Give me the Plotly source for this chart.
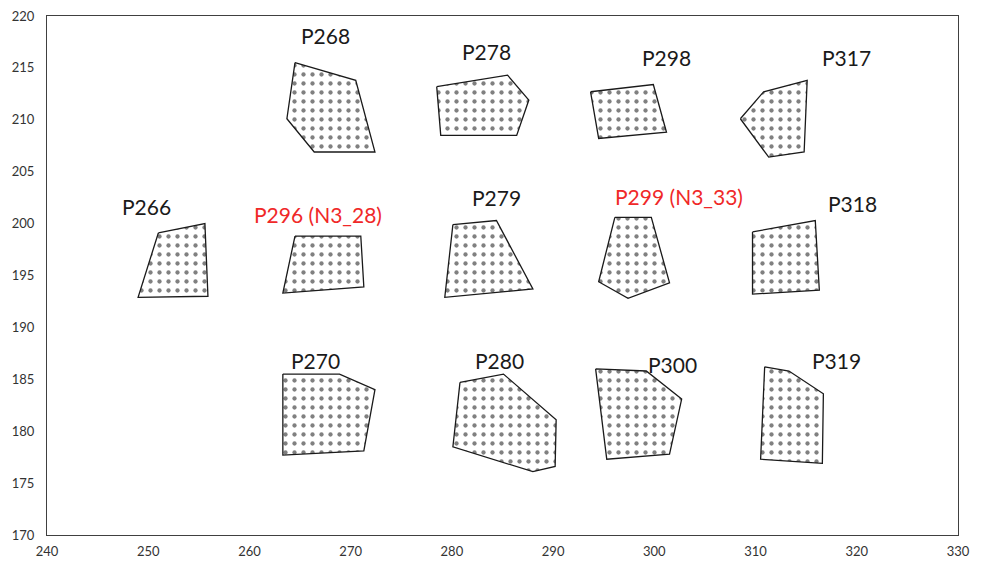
import plotly.graph_objects as go

# Plot names
names = ["P268", "P278", "P298", "P317",
         "P266", "P296", "P279", "P299", "P318",
         "P270", "P280", "P300", "P319"]

# Polygon outlines (x, y) per plot
poly_x = [
    [264.5, 270.5, 272.4, 266.4, 263.7],
    [278.5, 285.5, 287.6, 286.4, 278.9],
    [293.7, 299.9, 301.2, 294.5],
    [308.5, 310.8, 315.1, 314.8, 311.3],
    [251.0, 255.6, 255.9, 249.0],
    [264.5, 271.0, 271.3, 263.3],
    [280.1, 284.4, 288.0, 279.3],
    [296.1, 299.7, 301.5, 297.4, 294.5],
    [309.7, 315.9, 316.3, 309.7],
    [263.3, 268.9, 272.4, 271.3, 263.3],
    [280.8, 285.1, 290.3, 290.2, 288.0, 280.1],
    [294.2, 299.2, 302.7, 301.5, 295.3],
    [310.9, 313.3, 316.7, 316.6, 310.5],
]
poly_y = [
    [215.5, 213.8, 206.9, 206.9, 210.1],
    [213.2, 214.3, 211.9, 208.5, 208.5],
    [212.7, 213.4, 208.8, 208.2],
    [210.1, 212.7, 213.8, 206.9, 206.4],
    [199.1, 200.0, 193.0, 192.9],
    [198.8, 198.8, 193.9, 193.3],
    [199.9, 200.3, 193.7, 192.9],
    [200.6, 200.6, 194.3, 192.8, 194.4],
    [199.2, 200.3, 193.6, 193.2],
    [185.5, 185.5, 184.0, 178.1, 177.7],
    [184.7, 185.5, 181.1, 176.6, 176.1, 178.5],
    [186.0, 185.8, 183.1, 177.8, 177.3],
    [186.2, 185.8, 183.6, 176.9, 177.3],
]

# Labels
label_text = ["P268", "P278", "P298", "P317",
              "P266", "P296 (N3_28)", "P279", "P299 (N3_33)", "P318",
              "P270", "P280", "P300", "P319"]
label_x = [267.5, 283.4, 301.2, 319.0, 249.8, 266.8, 284.4, 302.4, 319.6,
           266.5, 284.7, 301.8, 318.0]
label_y = [218.1, 216.6, 216.05, 216.05, 201.6, 200.9, 202.5, 202.6, 201.9,
           186.8, 186.8, 186.4, 186.8]
label_red = [False, False, False, False, False, True, False, True, False,
             False, False, False, False]

x_ticks = [240, 250, 260, 270, 280, 290, 300, 310, 320, 330]
y_ticks = [170, 175, 180, 185, 190, 195, 200, 205, 210, 215, 220]

fig = go.Figure()
for n, xs, ys in zip(names, poly_x, poly_y):
    fig.add_trace(go.Scatter(
        x=xs + [xs[0]], y=ys + [ys[0]], mode="lines", name=n,
        fill="toself", fillcolor="white",
        fillpattern=dict(shape=".", fgcolor="#808080", bgcolor="white",
                         size=9, solidity=0.18, fillmode="replace"),
        line=dict(color="#1a1a1a", width=1.3),
        hoverinfo="name", showlegend=False,
    ))

for t, lx, ly, red in zip(label_text, label_x, label_y, label_red):
    fig.add_annotation(x=lx, y=ly, text=t, showarrow=False,
                       xref="x", yref="y",
                       font=dict(family="Lato, Open Sans, sans-serif", size=21,
                                 color="#f02828" if red else "#1a1a1a"))

axis_common = dict(showgrid=False, zeroline=False, showline=True,
                   linecolor="#404040", linewidth=1, mirror=True,
                   ticks="", automargin=False,
                   tickfont=dict(family="Lato, sans-serif", size=13, color="#333333"))
fig.update_xaxes(range=[240, 330], tickvals=x_ticks, ticklabelstandoff=4, **axis_common)
fig.update_yaxes(range=[170, 220], tickvals=y_ticks, ticklabelstandoff=9, **axis_common)

fig.update_layout(width=981, height=562,
                  margin=dict(l=47, r=23, t=16, b=27),
                  plot_bgcolor="white", paper_bgcolor="white")

fig.write_html("out.html", config={"displayModeBar": False},
               post_script="document.body.style.margin='0px';")
